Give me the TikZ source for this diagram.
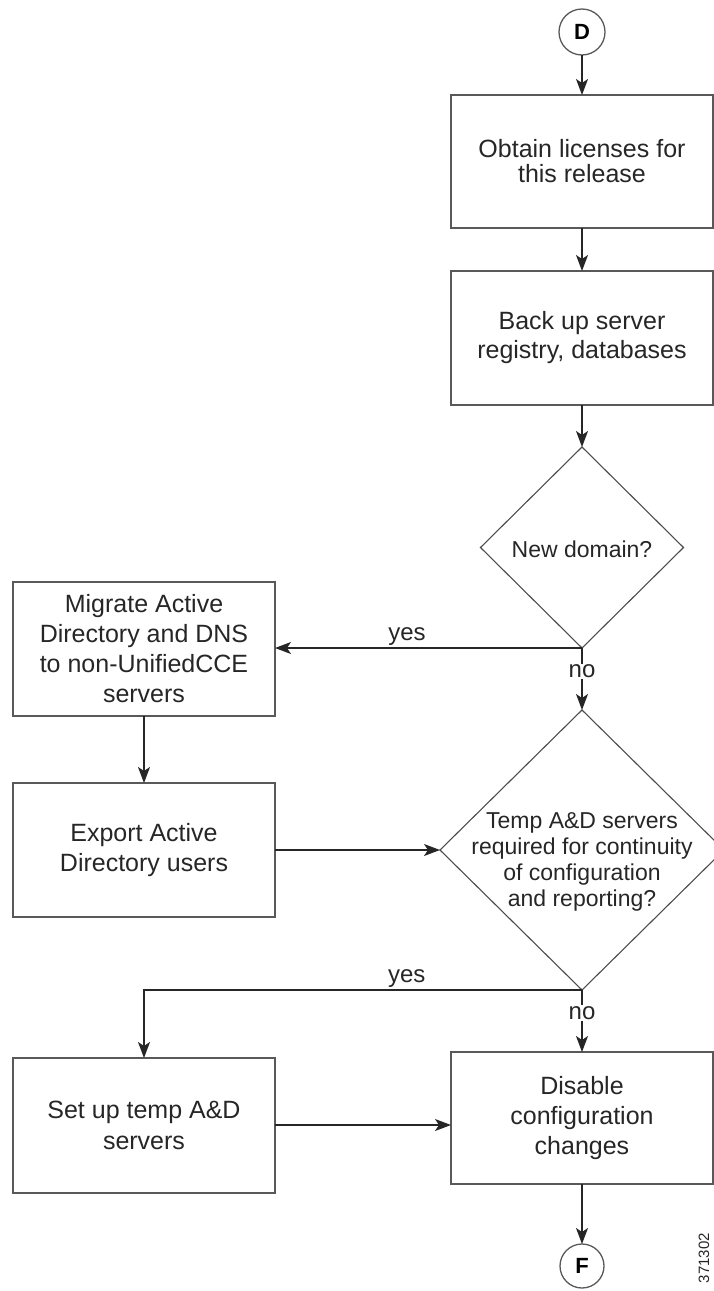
\documentclass[tikz,border=0pt]{standalone}
\usepackage{fontspec}
\setmainfont{Liberation Sans}
\usetikzlibrary{shapes.geometric,arrows.meta}
\begin{document}
\begin{tikzpicture}[x=1pt,y=-1pt,
  box/.style={draw=black!65, line width=1.3pt, rectangle, minimum width=262pt, inner sep=0pt, outer sep=0pt, align=center, text=black!85},
  dia/.style={draw=black!70, line width=1.1pt, diamond, inner sep=0pt, outer sep=0pt},
  dtxt/.style={align=center, text=black!85, font=\fontsize{23}{26}\selectfont},
  conn/.style={draw=black!65, line width=1.3pt, circle, minimum size=46pt, inner sep=0pt, outer sep=0pt, font=\bfseries\fontsize{22}{22}\selectfont},
  arr/.style={draw=black!85, line width=1.3pt, -{Stealth[length=16pt,width=12pt,inset=4pt]}},
  lab/.style={text=black!85, font=\fontsize{24}{24}\selectfont, inner sep=2pt}
]
\useasboundingbox (0,0) rectangle (714,1291);

\node[conn] (D) at (582,32) {D};
\node[box, minimum height=133pt, font=\fontsize{25}{24}\selectfont] (b1) at (582,161.5) {Obtain licenses for\\[1pt]this release};
\node[box, minimum height=134pt, font=\fontsize{25}{29}\selectfont] (b2) at (582,338) {Back up server\\registry, databases};
\node[dia, minimum width=203pt, minimum height=201pt] (q1) at (582,547.5) {};
\node[dtxt] (q1t) at (582,549) {New domain?};
\node[box, minimum height=134pt, font=\fontsize{25}{30}\selectfont] (mig) at (144,649) {Migrate Active\\Directory and DNS\\to non-UnifiedCCE\\servers};
\node[box, minimum height=134pt, font=\fontsize{25}{30}\selectfont] (exp) at (144,850) {Export Active\\Directory users};
\node[dia, minimum width=284pt, minimum height=280pt] (q2) at (582,850) {};
\node[dtxt] (q2t) at (582,862) {Temp A\&D servers\\required for continuity\\of configuration\\and reporting?};
\node[box, minimum height=135pt, font=\fontsize{25}{31}\selectfont] (set) at (144,1125.5) {Set up temp A\&D\\servers};
\node[box, minimum height=132pt, font=\fontsize{25}{30}\selectfont] (dis) at (582,1118) {Disable\\configuration\\changes};
\node[conn, minimum size=44pt] (F) at (582,1266) {F};
\node[rotate=90, text=black!85, font=\fontsize{15}{15}\selectfont, inner sep=0pt] (id) at (704,1258) {371302};

\draw[arr] (D) -- (b1);
\draw[arr] (b1) -- (b2);
\draw[arr] (b2) -- (q1.north);
\draw[arr] (q1.south) -- node[lab, pos=0.57, above] {yes} (q1.south -| mig.east);
\draw[arr] (q1.south) -- node[lab, pos=0.38, fill=white, inner sep=1pt] {no} (q2.north);
\draw[arr] (mig) -- (exp);
\draw[arr] (exp.east) -- (q2.west);
\draw[arr] (q2.south) -| node[lab, pos=0.2, above] {yes} (set.north);
\draw[arr] (q2.south) -- node[lab, pos=0.37, fill=white, inner sep=1pt] {no} (dis.north);
\draw[arr] (set.east |- 0,1125) -- (dis.west |- 0,1125);
\draw[arr] (dis) -- (F);
\end{tikzpicture}
\end{document}
